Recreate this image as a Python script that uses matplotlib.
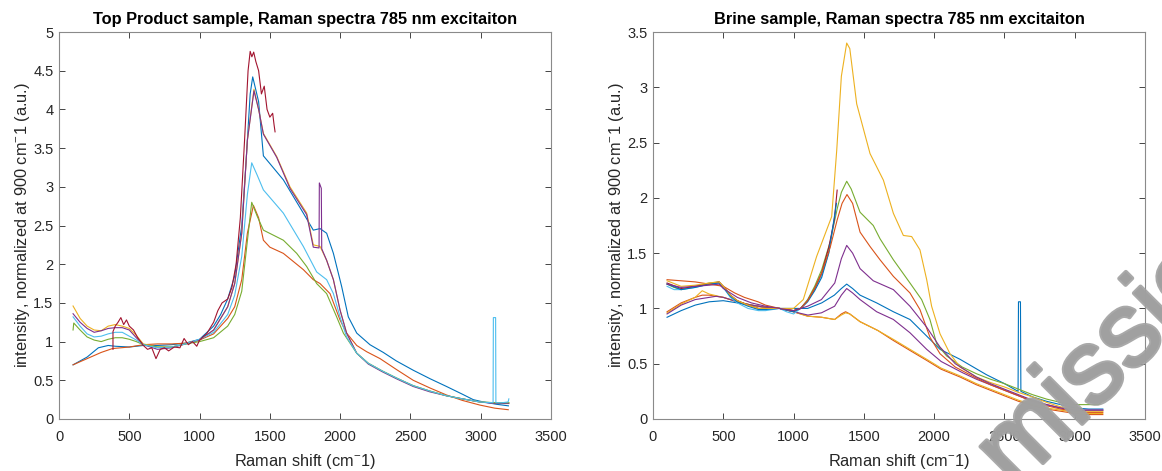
import numpy as np
import matplotlib
matplotlib.use("Agg")
import matplotlib.pyplot as plt
import matplotlib.patheffects as pe
from matplotlib.ticker import FormatStrFormatter

plt.rcParams['font.family'] = ['Liberation Sans', 'DejaVu Sans']
plt.rcParams['mathtext.fontset'] = 'custom'
plt.rcParams['mathtext.rm'] = 'Liberation Sans'
plt.rcParams['mathtext.it'] = 'Liberation Sans'

# matlab default colour order
c_blue = '#0072BD'
c_orange = '#D95319'
c_yellow = '#EDB120'
c_purple = '#7E2F8E'
c_green = '#77AC30'
c_lblue = '#4DBEEE'
c_red = '#A2142F'

# ---- Top Product sample ----
tp_blue_x = [100, 200, 280, 350, 400, 500, 600, 700, 800, 900, 1000, 1100, 1150, 1200, 1250, 1300, 1330, 1360, 1378, 1420, 1454, 1500, 1596, 1738, 1809, 1857, 1904, 1952, 2011, 2058, 2118, 2212, 2307, 2400, 2520, 2640, 2757, 2870, 2947, 3019, 3113, 3197]
tp_blue_y = [0.70, 0.80, 0.92, 0.95, 0.94, 0.93, 0.95, 0.95, 0.96, 0.98, 1.03, 1.20, 1.35, 1.55, 1.85, 2.50, 3.30, 4.20, 4.42, 4.10, 3.40, 3.30, 3.09, 2.66, 2.44, 2.46, 2.40, 2.14, 1.71, 1.32, 1.11, 0.96, 0.86, 0.75, 0.63, 0.52, 0.42, 0.32, 0.25, 0.22, 0.19, 0.17]

tp_orange_x = [100, 200, 300, 380, 500, 600, 700, 800, 900, 1000, 1100, 1200, 1250, 1300, 1340, 1383, 1420, 1454, 1500, 1596, 1738, 1809, 1857, 1928, 1999, 2046, 2118, 2188, 2284, 2400, 2520, 2640, 2757, 2870, 2994, 3100, 3196]
tp_orange_y = [0.70, 0.78, 0.86, 0.91, 0.93, 0.96, 0.97, 0.97, 0.98, 1.02, 1.10, 1.30, 1.45, 1.80, 2.40, 2.76, 2.60, 2.31, 2.22, 2.14, 1.93, 1.80, 1.75, 1.62, 1.28, 1.11, 0.95, 0.87, 0.78, 0.64, 0.50, 0.40, 0.31, 0.24, 0.18, 0.14, 0.12]

tp_yellow_x = [100, 150, 200, 250, 300, 350, 400, 450, 500, 550, 600, 700, 800, 900, 1000, 1100, 1200, 1250, 1300, 1340, 1387, 1420, 1454, 1549, 1643, 1762, 1809, 1857, 1904, 1952, 1999, 2046, 2118, 2200, 2300, 2400, 2520, 2640, 2757, 2870, 2994, 3100, 3200]
tp_yellow_y = [1.46, 1.30, 1.20, 1.15, 1.14, 1.20, 1.22, 1.20, 1.17, 1.08, 0.97, 0.93, 0.93, 0.97, 1.02, 1.15, 1.45, 1.75, 2.40, 3.60, 4.26, 4.00, 3.69, 3.39, 3.00, 2.66, 2.25, 2.23, 2.05, 1.80, 1.41, 1.11, 0.85, 0.72, 0.62, 0.53, 0.43, 0.36, 0.30, 0.26, 0.22, 0.21, 0.21]

tp_purple_x = [100, 150, 200, 250, 300, 350, 400, 450, 500, 550, 600, 700, 800, 900, 1000, 1100, 1200, 1250, 1300, 1340, 1387, 1420, 1454, 1549, 1643, 1762, 1809, 1850, 1852, 1866, 1869, 1904, 1952, 1999, 2046, 2118, 2200, 2300, 2400, 2520, 2640, 2757, 2870, 2994, 3100, 3200]
tp_purple_y = [1.36, 1.25, 1.17, 1.12, 1.14, 1.17, 1.18, 1.18, 1.15, 1.05, 0.96, 0.90, 0.92, 0.97, 1.02, 1.15, 1.45, 1.75, 2.40, 3.60, 4.24, 4.00, 3.68, 3.38, 2.98, 2.64, 2.22, 2.21, 3.05, 2.98, 2.20, 2.05, 1.80, 1.41, 1.11, 0.85, 0.71, 0.61, 0.52, 0.42, 0.35, 0.30, 0.26, 0.22, 0.20, 0.20]

tp_green_x = [100, 105, 150, 200, 250, 300, 350, 400, 450, 500, 550, 600, 700, 800, 900, 1000, 1100, 1200, 1250, 1300, 1340, 1371, 1410, 1454, 1596, 1691, 1762, 1833, 1904, 1975, 2023, 2118, 2200, 2300, 2400, 2520, 2640, 2757, 2870, 2994, 3100, 3200]
tp_green_y = [1.15, 1.24, 1.15, 1.06, 1.02, 1.00, 1.03, 1.05, 1.05, 1.03, 1.00, 0.96, 0.93, 0.93, 0.97, 1.00, 1.05, 1.20, 1.35, 1.65, 2.30, 2.80, 2.62, 2.44, 2.31, 2.14, 1.97, 1.75, 1.62, 1.32, 1.11, 0.85, 0.72, 0.62, 0.53, 0.43, 0.36, 0.30, 0.26, 0.22, 0.21, 0.21]

tp_lblue_x = [100, 150, 200, 250, 300, 350, 400, 450, 500, 550, 600, 700, 800, 900, 1000, 1100, 1200, 1250, 1300, 1340, 1371, 1410, 1454, 1596, 1738, 1833, 1904, 1952, 1999, 2046, 2118, 2200, 2300, 2400, 2520, 2640, 2757, 2870, 2994, 3088, 3090, 3106, 3108, 3150, 3195, 3200]
tp_lblue_y = [1.32, 1.20, 1.10, 1.06, 1.07, 1.10, 1.12, 1.12, 1.07, 1.02, 0.96, 0.92, 0.93, 0.97, 1.03, 1.12, 1.35, 1.60, 2.10, 2.90, 3.31, 3.15, 2.96, 2.66, 2.23, 1.90, 1.80, 1.62, 1.32, 1.06, 0.85, 0.72, 0.62, 0.53, 0.43, 0.36, 0.30, 0.26, 0.22, 0.21, 1.31, 1.31, 0.21, 0.21, 0.22, 0.26]

tp_red_x = [384, 384, 400, 420, 440, 460, 480, 500, 530, 560, 600, 630, 660, 690, 720, 750, 780, 820, 860, 890, 920, 950, 980, 1000, 1050, 1100, 1130, 1160, 1200, 1230, 1260, 1290, 1320, 1345, 1360, 1372, 1385, 1400, 1420, 1440, 1460, 1480, 1500, 1520, 1530, 1537]
tp_red_y = [0.90, 1.13, 1.20, 1.25, 1.31, 1.22, 1.28, 1.20, 1.15, 1.05, 0.95, 0.90, 0.92, 0.78, 0.90, 0.92, 0.88, 0.93, 0.92, 1.04, 0.96, 1.00, 0.94, 1.02, 1.10, 1.25, 1.40, 1.50, 1.55, 1.70, 2.00, 2.60, 3.60, 4.50, 4.75, 4.68, 4.74, 4.62, 4.50, 4.20, 4.30, 4.00, 3.90, 3.95, 3.80, 3.71]

# ---- Brine sample ----
br_blue1_x = [100, 150, 200, 300, 400, 500, 600, 700, 800, 900, 1000, 1100, 1200, 1290, 1340, 1378, 1420, 1473, 1591, 1710, 1828, 1947, 2042, 2184, 2373, 2500, 2597, 2600, 2614, 2617, 2700, 2800, 2900, 3000, 3100, 3200]
br_blue1_y = [0.92, 0.95, 0.98, 1.03, 1.06, 1.07, 1.05, 1.03, 1.01, 1.00, 1.00, 1.00, 1.05, 1.12, 1.18, 1.22, 1.18, 1.12, 1.05, 0.97, 0.90, 0.75, 0.63, 0.54, 0.40, 0.32, 0.25, 1.06, 1.06, 0.25, 0.20, 0.16, 0.13, 0.10, 0.09, 0.09]

br_orange1_x = [100, 200, 300, 350, 400, 500, 600, 700, 800, 900, 1000, 1100, 1200, 1292, 1340, 1370, 1400, 1473, 1600, 1710, 1828, 1947, 2050, 2184, 2300, 2400, 2500, 2600, 2700, 2800, 2900, 3000, 3100, 3200]
br_orange1_y = [0.97, 1.05, 1.10, 1.12, 1.12, 1.10, 1.06, 1.03, 1.01, 1.00, 0.97, 0.93, 0.92, 0.90, 0.95, 0.97, 0.95, 0.88, 0.80, 0.71, 0.62, 0.53, 0.45, 0.38, 0.31, 0.26, 0.21, 0.16, 0.12, 0.09, 0.07, 0.05, 0.04, 0.04]

br_yellow1_x = br_orange1_x
br_yellow1_y = [0.96, 1.04, 1.10, 1.16, 1.13, 1.10, 1.06, 1.03, 1.01, 1.00, 0.97, 0.93, 0.92, 0.90, 0.94, 0.96, 0.95, 0.88, 0.80, 0.72, 0.63, 0.54, 0.46, 0.39, 0.32, 0.27, 0.22, 0.17, 0.13, 0.10, 0.08, 0.06, 0.05, 0.05]

br_purple1_x = [100, 200, 300, 400, 450, 500, 600, 700, 800, 900, 1000, 1102, 1198, 1292, 1340, 1378, 1420, 1473, 1591, 1710, 1828, 1947, 2050, 2200, 2300, 2400, 2500, 2600, 2700, 2800, 2900, 3000, 3100, 3200]
br_purple1_y = [0.95, 1.03, 1.08, 1.10, 1.11, 1.10, 1.06, 1.03, 1.01, 1.00, 0.97, 0.94, 0.96, 1.02, 1.12, 1.18, 1.14, 1.08, 0.97, 0.90, 0.78, 0.63, 0.52, 0.42, 0.36, 0.31, 0.26, 0.21, 0.16, 0.13, 0.10, 0.08, 0.08, 0.08]

br_green_x = [100, 150, 200, 300, 400, 470, 500, 550, 600, 676, 750, 800, 900, 1000, 1050, 1100, 1150, 1200, 1260, 1310, 1340, 1378, 1410, 1473, 1567, 1615, 1710, 1828, 1911, 1970, 2018, 2089, 2200, 2300, 2400, 2500, 2600, 2700, 2800, 2900, 3000, 3100, 3170, 3200]
br_green_y = [1.22, 1.19, 1.17, 1.20, 1.23, 1.24, 1.20, 1.12, 1.07, 1.03, 1.00, 1.00, 1.00, 0.98, 1.00, 1.08, 1.20, 1.35, 1.60, 1.90, 2.05, 2.15, 2.08, 1.87, 1.75, 1.63, 1.44, 1.23, 1.08, 0.90, 0.68, 0.57, 0.47, 0.41, 0.36, 0.32, 0.27, 0.22, 0.18, 0.15, 0.13, 0.13, 0.13, 0.17]

br_lblue_x = [100, 150, 200, 300, 400, 470, 500, 550, 600, 676, 750, 800, 900, 950, 1000, 1050, 1100, 1150, 1200, 1250, 1300]
br_lblue_y = [1.20, 1.17, 1.17, 1.19, 1.22, 1.23, 1.19, 1.10, 1.05, 1.00, 0.98, 0.98, 1.00, 0.97, 0.95, 1.00, 1.07, 1.17, 1.30, 1.50, 1.88]

br_red_x = [100, 200, 300, 400, 470, 500, 550, 600, 676, 750, 800, 900, 1000, 1050, 1100, 1150, 1200, 1250, 1290, 1310]
br_red_y = [1.23, 1.18, 1.20, 1.22, 1.24, 1.20, 1.12, 1.07, 1.03, 1.00, 1.00, 1.00, 0.98, 1.00, 1.07, 1.18, 1.32, 1.55, 1.80, 2.07]

br_blue2_x = [100, 200, 300, 400, 470, 500, 550, 600, 676, 750, 800, 900, 1000, 1050, 1100, 1150, 1200, 1250, 1305]
br_blue2_y = [1.22, 1.17, 1.19, 1.22, 1.23, 1.19, 1.11, 1.06, 1.02, 0.99, 0.99, 1.00, 0.97, 1.00, 1.06, 1.16, 1.28, 1.50, 1.95]

br_orange2_x = [100, 200, 300, 400, 500, 581, 650, 747, 800, 900, 1000, 1050, 1100, 1150, 1200, 1260, 1310, 1345, 1380, 1420, 1473, 1544, 1615, 1710, 1828, 1899, 1970, 2042, 2150, 2300, 2400, 2500, 2600, 2700, 2800, 2900, 3000, 3100, 3200]
br_orange2_y = [1.26, 1.25, 1.24, 1.22, 1.20, 1.14, 1.10, 1.06, 1.03, 1.00, 0.98, 1.00, 1.07, 1.18, 1.32, 1.55, 1.80, 1.95, 2.03, 1.95, 1.69, 1.56, 1.44, 1.29, 1.14, 0.99, 0.74, 0.59, 0.47, 0.37, 0.31, 0.26, 0.21, 0.16, 0.12, 0.09, 0.07, 0.06, 0.06]

br_yellow2_x = [100, 200, 300, 400, 470, 500, 550, 600, 676, 750, 800, 900, 1000, 1069, 1164, 1271, 1307, 1340, 1378, 1400, 1449, 1544, 1639, 1710, 1781, 1840, 1899, 1947, 1982, 2042, 2113, 2184, 2300, 2400, 2500, 2600, 2700, 2800, 2900, 3000, 3100, 3200]
br_yellow2_y = [1.25, 1.20, 1.21, 1.23, 1.24, 1.20, 1.12, 1.07, 1.03, 1.00, 1.00, 1.00, 1.00, 1.08, 1.47, 1.83, 2.43, 3.10, 3.40, 3.35, 2.85, 2.40, 2.16, 1.86, 1.66, 1.65, 1.53, 1.26, 1.02, 0.77, 0.59, 0.47, 0.38, 0.33, 0.29, 0.24, 0.20, 0.15, 0.11, 0.08, 0.07, 0.07]

br_purple2_x = [100, 200, 300, 400, 470, 500, 600, 700, 800, 900, 1000, 1100, 1198, 1293, 1340, 1378, 1420, 1473, 1567, 1710, 1828, 1947, 2042, 2150, 2300, 2400, 2500, 2600, 2700, 2800, 2900, 3000, 3100, 3200]
br_purple2_y = [1.22, 1.19, 1.20, 1.21, 1.22, 1.18, 1.10, 1.05, 1.02, 1.00, 0.98, 1.02, 1.08, 1.23, 1.45, 1.57, 1.50, 1.36, 1.25, 1.17, 1.02, 0.83, 0.65, 0.50, 0.38, 0.32, 0.27, 0.22, 0.17, 0.13, 0.10, 0.08, 0.08, 0.08]

top_series = [
    (tp_blue_x, tp_blue_y, c_blue), (tp_orange_x, tp_orange_y, c_orange),
    (tp_yellow_x, tp_yellow_y, c_yellow), (tp_purple_x, tp_purple_y, c_purple),
    (tp_green_x, tp_green_y, c_green), (tp_lblue_x, tp_lblue_y, c_lblue),
    (tp_red_x, tp_red_y, c_red),
]
brine_series = [
    (br_blue1_x, br_blue1_y, c_blue), (br_orange1_x, br_orange1_y, c_orange),
    (br_yellow1_x, br_yellow1_y, c_yellow), (br_purple1_x, br_purple1_y, c_purple),
    (br_green_x, br_green_y, c_green), (br_lblue_x, br_lblue_y, c_lblue),
    (br_red_x, br_red_y, c_red), (br_blue2_x, br_blue2_y, c_blue),
    (br_orange2_x, br_orange2_y, c_orange), (br_yellow2_x, br_yellow2_y, c_yellow),
    (br_purple2_x, br_purple2_y, c_purple),
]

fig = plt.figure(figsize=(11.62, 4.71), dpi=100)
ax1 = fig.add_axes([59 / 1162, 52 / 471, 492 / 1162, 387 / 471])
ax2 = fig.add_axes([653 / 1162, 52 / 471, 492 / 1162, 387 / 471])

axcol = '#262626'
for ax, series, ymax, yt, title in [
        (ax1, top_series, 5, np.arange(0, 5.01, 0.5), 'Top Product sample, Raman spectra 785 nm excitaiton'),
        (ax2, brine_series, 3.5, np.arange(0, 3.51, 0.5), 'Brine sample, Raman spectra 785 nm excitaiton')]:
    for x, y, c in series:
        ax.plot(x, y, color=c, lw=0.8)
    ax.set_xlim(0, 3500)
    ax.set_ylim(0, ymax)
    ax.set_xticks(np.arange(0, 3501, 500))
    ax.set_yticks(yt)
    ax.yaxis.set_major_formatter(FormatStrFormatter('%g'))
    ax.tick_params(direction='in', top=True, right=True, length=4, width=0.6,
                   colors=axcol, labelsize=10.5)
    ax.tick_params(axis='x', pad=8)
    ax.tick_params(axis='y', pad=4)
    for s in ax.spines.values():
        s.set_color('#8a8a8a')
        s.set_linewidth(0.8)
    ax.set_title(title, fontsize=11.8, fontweight='bold', color='black', pad=6)
    ax.set_xlabel('Raman shift (cm$^{-}$1)', fontsize=11.8, color=axcol, labelpad=6)
    ax.set_ylabel('intensity, normalized at 900 cm$^{-}$1 (a.u.)', fontsize=11.8,
                  color=axcol, labelpad=1)

# watermark over the right panel
fig.text(1015 / 1162, 1 - 491 / 471, 'mission', fontsize=76, color='#a0a0a0',
         rotation=45, rotation_mode='anchor', ha='left', va='baseline', alpha=0.9,
         path_effects=[pe.withStroke(linewidth=3, foreground='#a0a0a0')])

plt.savefig('out.png', dpi=100)
